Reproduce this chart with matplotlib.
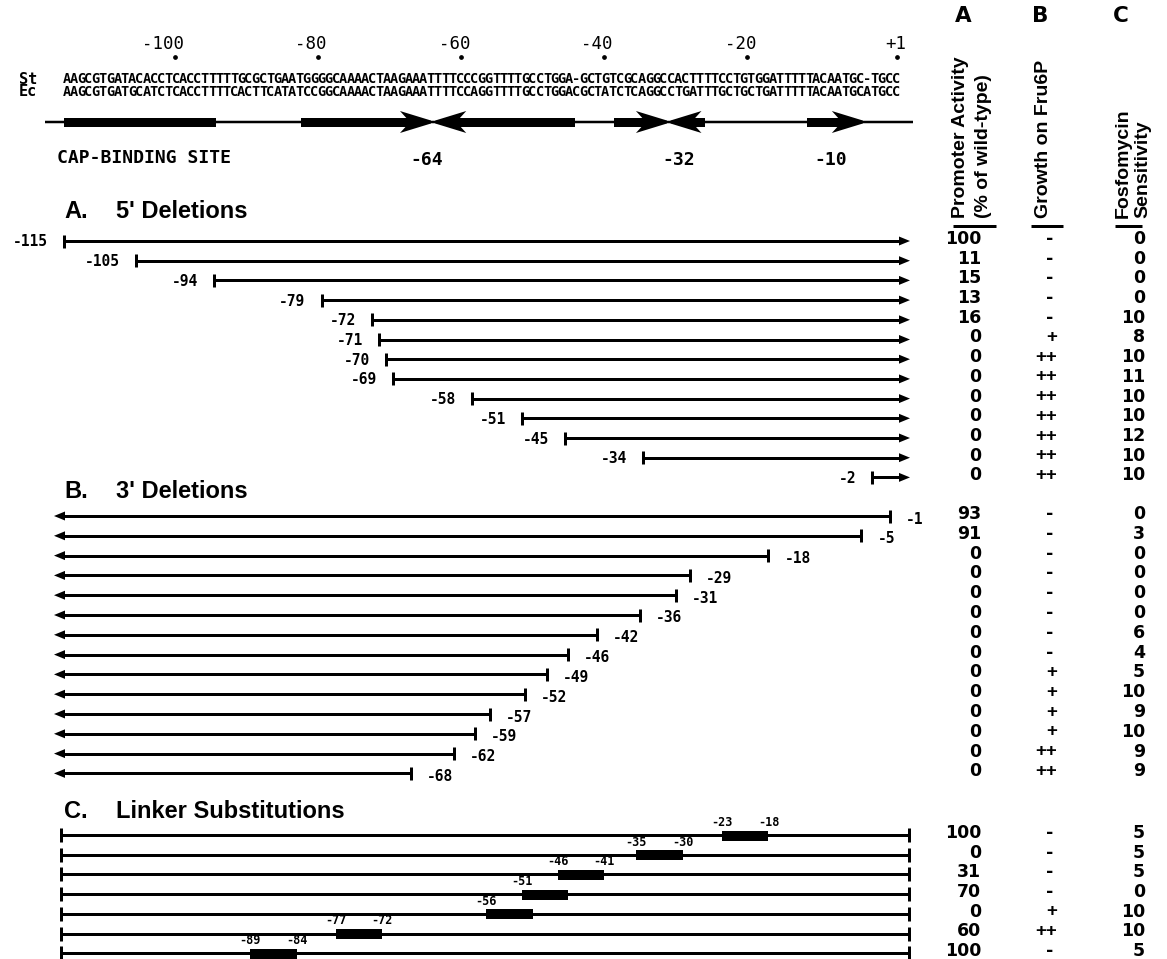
import numpy as np
import matplotlib
matplotlib.use('Agg')
import matplotlib.pyplot as plt
from matplotlib.patches import Polygon, Rectangle
from matplotlib import font_manager as fm

# ---------------- data ----------------
TOP_TICKS = [-100, -80, -60, -40, -20, 1]
TOP_TICK_LABELS = ['-100', '-80', '-60', '-40', '-20', '+1']

SEQ_ST = ("AAGCGTGATACACCTCACCTTTTTGCGCTGAATGGGGCAAAACTAAGAAATTTTCCCGGTTTTGCCTGGA-"
          "GCTGTCGCAGGCCACTTTTCCTGTGGATTTTTACAATGC-TGCC")
SEQ_EC = ("AAGCGTGATGCATCTCACCTTTTCACTTCATATCCGGCAAAACTAAGAAATTTTCCAGGTTTTGCCTGGA"
          "CGCTATCTCAGGCCTGATTTGCTGCTGATTTTTACAATGCATGCC")
SEQ_NAMES = ['St', 'Ec']

CAP_SITE = (-115.5, -94.3)
RIGHT_ARROWS = [(-82.4, -64.2), (-38.6, -31.2), (-11.6, -3.8)]   # (bar start, tip)
LEFT_ARROWS = [(-63.6, -44.1), (-30.7, -25.9)]                    # (tip, bar end)
SITE_LABELS = ['-64', '-32', '-10']
SITE_LABEL_POS = [-64.8, -29.5, -8.3]

DEL5_START = [-115, -105, -94, -79, -72, -71, -70, -69, -58, -51, -45, -34, -2]
DEL5_ACT = [100, 11, 15, 13, 16, 0, 0, 0, 0, 0, 0, 0, 0]
DEL5_GROWTH = ['-', '-', '-', '-', '-', '+', '++', '++', '++', '++', '++', '++', '++']
DEL5_FOS = [0, 0, 0, 0, 10, 8, 10, 11, 10, 10, 12, 10, 10]

DEL3_END = [-1, -5, -18, -29, -31, -36, -42, -46, -49, -52, -57, -59, -62, -68]
DEL3_ACT = [93, 91, 0, 0, 0, 0, 0, 0, 0, 0, 0, 0, 0, 0]
DEL3_GROWTH = ['-', '-', '-', '-', '-', '-', '-', '-', '+', '+', '+', '+', '++', '++']
DEL3_FOS = [0, 3, 0, 0, 0, 0, 6, 4, 5, 10, 9, 10, 9, 9]

LS_START = [-23, -35, -46, -51, -56, -77, -89]
LS_END = [-18, -30, -41, -46, -51, -72, -84]
LS_LEFT_LABEL = ['-23', '-35', '-46', '-51', '-56', '-77', '-89']
LS_RIGHT_LABEL = ['-18', '-30', '-41', '', '', '-72', '-84']
LS_ACT = [100, 0, 31, 70, 0, 60, 100]
LS_GROWTH = ['-', '-', '-', '-', '+', '++', '-']
LS_FOS = [5, 5, 5, 0, 10, 10, 5]

# ---------------- layout ----------------
W, H = 1167, 959
X0, SCALE = 890.0, 7.15      # pixel x of base 0, pixels per base


def bx(px):
    return (px - X0) / SCALE


PX = 1.0 / SCALE
LW = 0.72
K = 'black'

avail = {f.name for f in fm.fontManager.ttflist}
MONO = 'DejaVu Sans Mono'
SANS = 'Liberation Sans' if 'Liberation Sans' in avail else 'DejaVu Sans'
if 'Liberation Sans Narrow' in avail:
    ROT_FONT, ROT_SIZE = 'Liberation Sans Narrow', 16
else:
    ROT_FONT, ROT_SIZE = SANS, 14

fig = plt.figure(figsize=(W / 100, H / 100), dpi=100)
ax = fig.add_axes([0, 0, 1, 1])
ax.set_xlim(bx(0), bx(W))
ax.set_ylim(H, 0)
ax.axis('off')

# ---- column headers ----
for lab, xc in zip(['A', 'B', 'C'], [963, 1040, 1121]):
    ax.text(bx(xc), 16, lab, ha='center', va='center', fontfamily='DejaVu Sans',
            fontweight='bold', fontsize=15.5)
rot_texts = [('Promoter Activity', 960), ('(% of wild-type)', 983),
             ('Growth on Fru6P', 1043), ('Fosfomycin', 1123), ('Sensitivity', 1143)]
for t, xc in rot_texts:
    ax.text(bx(xc), 218, t, rotation=90, rotation_mode='anchor', ha='left', va='center',
            fontfamily=ROT_FONT, fontweight='bold', fontsize=ROT_SIZE)
for x0, x1 in [(953, 996), (1031, 1063), (1115, 1142)]:
    ax.plot([bx(x0), bx(x1)], [226, 226], color=K, lw=3 * LW, solid_capstyle='butt')

# ---- position scale ----
for pos, lab in zip(TOP_TICKS, TOP_TICK_LABELS):
    ax.plot([pos], [57], 'o', color=K, ms=2.4)
    ax.text(pos + 9 * PX, 44, lab, ha='right', va='center', fontfamily=MONO, fontsize=12.5)

# ---- sequences (one character per position) ----
for name, seq, y in zip(SEQ_NAMES, [SEQ_ST, SEQ_EC], [79, 92]):
    ax.text(bx(28), y, name, ha='center', va='center', fontfamily=MONO,
            fontweight='bold', fontsize=11)
    xs = np.linspace(bx(66.6), bx(896.4), len(seq))
    for ch, xc in zip(seq, xs):
        ax.text(xc, y, ch, ha='center', va='center', fontfamily=MONO,
                fontweight='bold', fontsize=9.8)

# ---- promoter map ----
YM = 122
ax.plot([bx(45), bx(913)], [YM, YM], color=K, lw=2.5 * LW, solid_capstyle='butt')
ax.add_patch(Rectangle((CAP_SITE[0], YM - 4.5), CAP_SITE[1] - CAP_SITE[0], 9, color=K, lw=0))

HL, HH, NOTCH, BH = 31, 11, 10, 4.5


def arrow(bar_end, tip, d):
    xb = tip - d * HL * PX
    xn = xb + d * NOTCH * PX
    lo, hi = sorted([bar_end, xn])
    ax.add_patch(Rectangle((lo, YM - BH), hi - lo, 2 * BH, color=K, lw=0))
    ax.add_patch(Polygon([(tip, YM - 1.5), (xb, YM - HH), (xn, YM), (xb, YM + HH),
                          (tip, YM + 1.5)], closed=True, color=K, lw=0))


for s, t in RIGHT_ARROWS:
    arrow(s, t, 1)
for t, e in LEFT_ARROWS:
    arrow(e, t, -1)

ax.text(bx(57), 158, 'CAP-BINDING SITE', ha='left', va='center', fontfamily=MONO,
        fontweight='bold', fontsize=13)
for lab, pos in zip(SITE_LABELS, SITE_LABEL_POS):
    ax.text(pos, 160, lab, ha='center', va='center', fontfamily=MONO,
            fontweight='bold', fontsize=13)


# ---- helpers ----
def heading(letter, title, y):
    ax.text(bx(64), y, letter, ha='left', va='center', fontfamily=SANS,
            fontweight='bold', fontsize=17)
    ax.text(bx(116), y, title, ha='left', va='center', fontfamily=SANS,
            fontweight='bold', fontsize=17)


VAL = dict(va='center', fontfamily='DejaVu Sans', fontweight='bold', fontsize=12.5)


def values(ys, act, growth, fos):
    for y, a, g, f in zip(ys, act, growth, fos):
        ax.text(bx(981), y - 2, str(a), ha='right', **VAL)
        if g == '-':
            ax.text(bx(1050), y - 2, g, ha='center', **VAL)
        else:
            xc = 1052 if len(g) == 1 else 1046
            ax.text(bx(xc), y - 2, g, ha='center', va='center', fontfamily=SANS,
                    fontweight='bold', fontsize=13.5)
        ax.text(bx(1145), y - 2, str(f), ha='right', **VAL)


LBL = dict(fontfamily=MONO, fontweight='bold', fontsize=10.5)
LINE = dict(color=K, lw=3 * LW, solid_capstyle='butt')

# ---- A. 5' deletions ----
heading('A.', "5' Deletions", 211)
y5 = 241 + 19.7 * np.arange(len(DEL5_START))
tip5 = bx(910)
for s, y in zip(DEL5_START, y5):
    xs = s - 0.5
    ax.plot([xs, tip5 - 8 * PX], [y, y], **LINE)
    ax.plot([xs, xs], [y - 6.5, y + 6.5], **LINE)
    ax.add_patch(Polygon([(tip5, y), (tip5 - 11 * PX, y - 4.5), (tip5 - 11 * PX, y + 4.5)],
                         closed=True, color=K, lw=0))
    ax.text(xs - 16 * PX, y + 1, str(s), ha='right', va='center', **LBL)
values(y5, DEL5_ACT, DEL5_GROWTH, DEL5_FOS)

# ---- B. 3' deletions ----
heading('B.', "3' Deletions", 491)
y3 = 516 + 19.8 * np.arange(len(DEL3_END))
tip3 = bx(54)
for e, y in zip(DEL3_END, y3):
    xe = e + 1.0
    ax.plot([tip3 + 8 * PX, xe], [y, y], **LINE)
    ax.plot([xe, xe], [y - 6.5, y + 6.5], **LINE)
    ax.add_patch(Polygon([(tip3, y), (tip3 + 11 * PX, y - 4.5), (tip3 + 11 * PX, y + 4.5)],
                         closed=True, color=K, lw=0))
    ax.text(xe + 16 * PX, y + 3, str(e), ha='left', va='center', **LBL)
values(y3, DEL3_ACT, DEL3_GROWTH, DEL3_FOS)

# ---- C. linker substitutions ----
heading('C.', 'Linker Substitutions', 812)
yl = 835 + 19.7 * np.arange(len(LS_START))
xl0, xl1 = bx(61), bx(909)
for s, e, ll, rl, y in zip(LS_START, LS_END, LS_LEFT_LABEL, LS_RIGHT_LABEL, yl):
    ax.plot([xl0, xl1], [y, y], **LINE)
    for xe in (xl0, xl1):
        ax.plot([xe, xe], [y - 7, y + 7], **LINE)
    x0, x1 = s - 0.5, e + 1.0
    ax.add_patch(Rectangle((x0, y - 4.5), x1 - x0, 10, color=K, lw=0))
    ax.text(x0, y - 6, ll, ha='center', va='bottom', fontfamily=MONO, fontweight='bold',
            fontsize=8.5)
    if rl:
        ax.text(x1, y - 6, rl, ha='center', va='bottom', fontfamily=MONO, fontweight='bold',
                fontsize=8.5)
values(yl, LS_ACT, LS_GROWTH, LS_FOS)

fig.savefig('out.png', dpi=100)
